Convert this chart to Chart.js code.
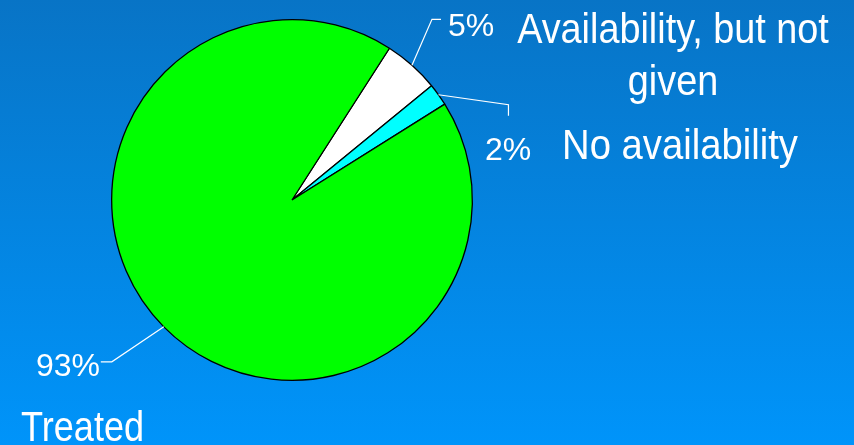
<!DOCTYPE html>
<html>
<head>
<meta charset="utf-8">
<script src="https://cdn.jsdelivr.net/npm/chart.js@4"></script>
<style>
  html, body { margin: 0; padding: 0; }
  body { width: 854px; height: 445px; overflow: hidden;
         background: linear-gradient(to bottom, #0874c6 0%, #0094fa 100%); }
  #c { display: block; }
</style>
</head>
<body>
<canvas id="c" width="854" height="445"></canvas>
<script>
// ---- data ----
const categories = ['Availability, but not given', 'No availability', 'Treated'];
const values = [5, 2, 93];
const colors = ['#ffffff', '#00ffff', '#00ff00'];

const REG = "'Liberation Sans', Arial, sans-serif";

// narrow-looking text: Liberation Sans compressed horizontally
function drawNarrow(ctx, text, x, y, size, align, sx) {
  ctx.save();
  ctx.font = size + 'px ' + REG;
  ctx.textAlign = align;
  ctx.textBaseline = 'alphabetic';
  ctx.translate(x, y);
  ctx.scale(sx, 1);
  ctx.fillText(text, 0, 0);
  ctx.restore();
}

const labelPlugin = {
  id: 'leaderLabels',
  afterDatasetsDraw(chart) {
    const ctx = chart.ctx;
    const meta = chart.getDatasetMeta(0);
    const total = values.reduce((a, b) => a + b, 0);
    ctx.save();
    ctx.strokeStyle = '#ffffff';
    ctx.fillStyle = '#ffffff';
    ctx.lineWidth = 1.2;
    const edge = (i) => {
      const a = meta.data[i];
      const mid = (a.startAngle + a.endAngle) / 2;
      return { x: a.x + Math.cos(mid) * a.outerRadius, y: a.y + Math.sin(mid) * a.outerRadius };
    };
    const pct = (i) => Math.round(values[i] / total * 100) + '%';

    // slice 0 : 5%
    let p = edge(0);
    ctx.beginPath();
    ctx.moveTo(p.x, p.y); ctx.lineTo(p.x + 20, p.y - 46); ctx.lineTo(p.x + 29, p.y - 46);
    ctx.stroke();
    ctx.font = '32px ' + REG; ctx.textAlign = 'left'; ctx.textBaseline = 'alphabetic';
    ctx.fillText(pct(0), 448, 36);
    const words = categories[0].split(' ');
    drawNarrow(ctx, words.slice(0, 3).join(' '), 673, 43, 42, 'center', 0.9);
    drawNarrow(ctx, words.slice(3).join(' '), 673, 95, 42, 'center', 0.9);

    // slice 1 : 2%
    p = edge(1);
    ctx.beginPath();
    ctx.moveTo(p.x, p.y); ctx.lineTo(p.x + 70, p.y + 10); ctx.lineTo(p.x + 70, p.y + 21);
    ctx.stroke();
    ctx.font = '32px ' + REG; ctx.textAlign = 'left';
    ctx.fillText(pct(1), 485, 160);
    drawNarrow(ctx, categories[1], 680, 159, 42, 'center', 0.91);

    // slice 2 : 93%
    p = edge(2);
    ctx.beginPath();
    ctx.moveTo(p.x, p.y); ctx.lineTo(p.x - 52, p.y + 35); ctx.lineTo(p.x - 63, p.y + 35);
    ctx.stroke();
    ctx.font = '32px ' + REG; ctx.textAlign = 'right';
    ctx.fillText(pct(2), 100, 376);
    drawNarrow(ctx, categories[2], 21, 441, 43, 'left', 0.84);
    ctx.restore();
  }
};

new Chart(document.getElementById('c'), {
  type: 'pie',
  data: {
    labels: categories,
    datasets: [{
      data: values,
      backgroundColor: colors,
      borderColor: '#000000',
      borderWidth: 1.3
    }]
  },
  options: {
    responsive: false,
    animation: false,
    rotation: 32.7,
    layout: { padding: { left: 111, right: 381, top: 19, bottom: 64 } },
    plugins: { legend: { display: false }, tooltip: { enabled: false } }
  },
  plugins: [labelPlugin]
});
</script>
</body>
</html>
